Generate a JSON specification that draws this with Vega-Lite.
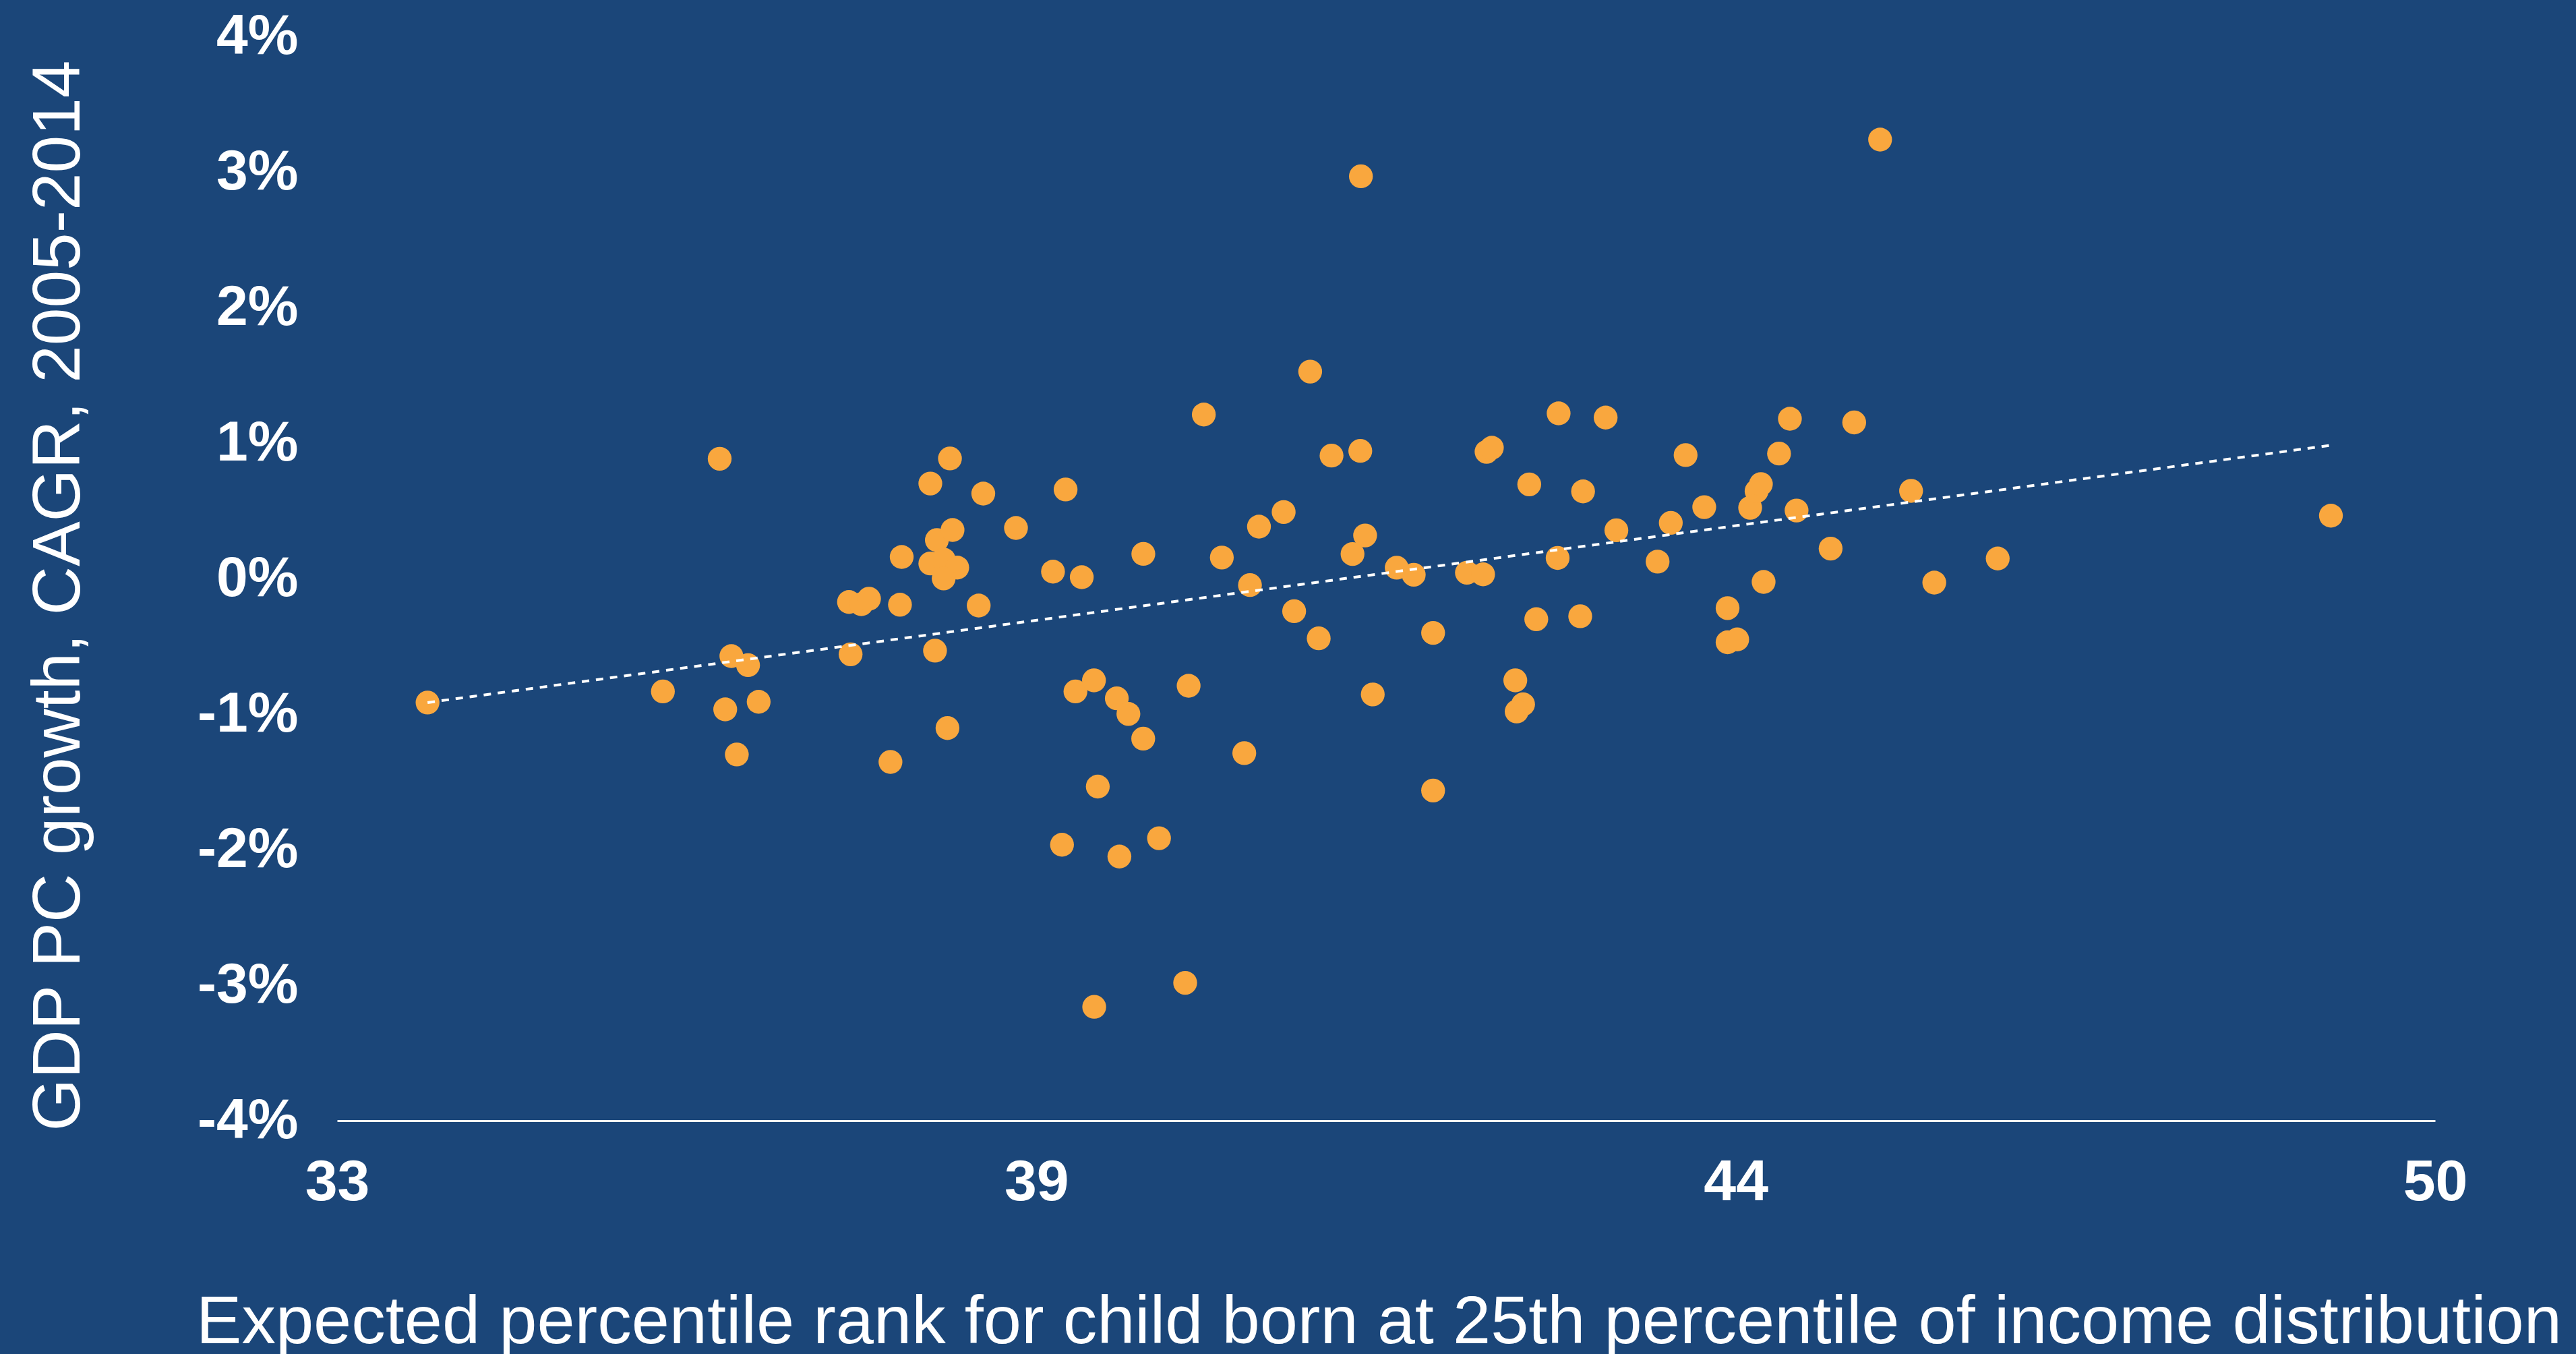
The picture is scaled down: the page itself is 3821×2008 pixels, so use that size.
{
  "$schema": "https://vega.github.io/schema/vega-lite/v6.json",
  "width": 3112,
  "height": 1608,
  "autosize": {"type": "none"},
  "padding": {"left": 500, "top": 54, "right": 209, "bottom": 346},
  "background": "#1B4679",
  "config": {"view": {"stroke": null}, "font": "Liberation Sans"},
  "layer": [
    {
      "data": {
        "values": [
          {"x": 33.733, "y": -0.915}, {"x": 35.640, "y": -0.833}, {"x": 36.100, "y": 0.884}, {"x": 36.195, "y": -0.572},
          {"x": 36.330, "y": -0.639}, {"x": 36.145, "y": -0.965}, {"x": 36.416, "y": -0.909}, {"x": 36.239, "y": -1.298},
          {"x": 37.148, "y": -0.173}, {"x": 37.248, "y": -0.189}, {"x": 37.310, "y": -0.149}, {"x": 37.161, "y": -0.559},
          {"x": 37.561, "y": -0.193}, {"x": 37.575, "y": 0.159}, {"x": 37.484, "y": -1.353}, {"x": 37.807, "y": 0.701},
          {"x": 37.966, "y": 0.886}, {"x": 37.860, "y": 0.284}, {"x": 37.987, "y": 0.358}, {"x": 37.807, "y": 0.111},
          {"x": 37.915, "y": 0.140}, {"x": 38.025, "y": 0.081}, {"x": 37.915, "y": 0.001}, {"x": 37.845, "y": -0.532},
          {"x": 38.199, "y": -0.199}, {"x": 38.236, "y": 0.627}, {"x": 38.501, "y": 0.373}, {"x": 37.946, "y": -1.103},
          {"x": 38.801, "y": 0.051}, {"x": 38.903, "y": 0.657}, {"x": 39.034, "y": 0.010}, {"x": 38.983, "y": -0.833},
          {"x": 39.133, "y": -0.751}, {"x": 39.318, "y": -0.884}, {"x": 39.412, "y": -0.999}, {"x": 39.532, "y": -1.181},
          {"x": 39.900, "y": -0.791}, {"x": 39.164, "y": -1.535}, {"x": 38.874, "y": -1.964}, {"x": 39.339, "y": -2.051},
          {"x": 39.660, "y": -1.916}, {"x": 39.872, "y": -2.983}, {"x": 39.135, "y": -3.160}, {"x": 39.533, "y": 0.182},
          {"x": 40.023, "y": 1.210}, {"x": 40.169, "y": 0.155}, {"x": 40.351, "y": -1.288}, {"x": 40.397, "y": -0.048},
          {"x": 40.470, "y": 0.383}, {"x": 40.670, "y": 0.491}, {"x": 40.755, "y": -0.241}, {"x": 40.885, "y": 1.527},
          {"x": 40.954, "y": -0.441}, {"x": 41.058, "y": 0.907}, {"x": 41.291, "y": 0.942}, {"x": 41.296, "y": 2.968},
          {"x": 41.330, "y": 0.318}, {"x": 41.228, "y": 0.181}, {"x": 41.392, "y": -0.855}, {"x": 41.586, "y": 0.080},
          {"x": 41.724, "y": 0.028}, {"x": 41.881, "y": -0.401}, {"x": 41.881, "y": -1.564}, {"x": 42.155, "y": 0.043},
          {"x": 42.286, "y": 0.031}, {"x": 42.314, "y": 0.935}, {"x": 42.357, "y": 0.965}, {"x": 42.547, "y": -0.751},
          {"x": 42.610, "y": -0.928}, {"x": 42.558, "y": -0.981}, {"x": 42.660, "y": 0.695}, {"x": 42.717, "y": -0.300},
          {"x": 42.890, "y": 0.152}, {"x": 42.898, "y": 1.219}, {"x": 43.073, "y": -0.278}, {"x": 43.096, "y": 0.643},
          {"x": 43.279, "y": 1.188}, {"x": 43.366, "y": 0.356}, {"x": 43.700, "y": 0.125}, {"x": 43.807, "y": 0.411},
          {"x": 43.927, "y": 0.911}, {"x": 44.078, "y": 0.527}, {"x": 44.267, "y": -0.218}, {"x": 44.267, "y": -0.470},
          {"x": 44.345, "y": -0.449}, {"x": 44.450, "y": 0.522}, {"x": 44.502, "y": 0.645}, {"x": 44.537, "y": 0.697},
          {"x": 44.559, "y": -0.025}, {"x": 44.684, "y": 0.922}, {"x": 44.772, "y": 1.179}, {"x": 44.826, "y": 0.502},
          {"x": 45.102, "y": 0.221}, {"x": 45.293, "y": 1.152}, {"x": 45.503, "y": 3.239}, {"x": 45.754, "y": 0.647},
          {"x": 45.942, "y": -0.030}, {"x": 46.456, "y": 0.148}, {"x": 49.156, "y": 0.464}
        ]
      },
      "mark": {"type": "circle", "size": 1250, "color": "#F9A73E", "opacity": 1},
      "encoding": {
        "x": {
          "field": "x", "type": "quantitative",
          "scale": {"domain": [33, 50], "nice": false, "zero": false},
          "axis": {
            "title": "Expected percentile rank for child born at 25th percentile of income distribution",
            "values": [33, 38.6667, 44.3333, 50],
            "labelExpr": "'' + round(datum.value)",
            "labelFlush": false, "labelOverlap": false, "labelBound": false,
            "ticks": false, "tickSize": 0, "grid": false,
            "domain": true, "domainColor": "#F2F2F2", "domainWidth": 3,
            "labelFont": "Liberation Sans", "labelFontWeight": "bold", "labelFontSize": 86,
            "labelColor": "#FFFFFF", "labelPadding": 49,
            "titleFont": "Liberation Sans", "titleFontSize": 101, "titleFontWeight": "normal",
            "titleColor": "#FFFFFF", "titleX": 1545, "titleY": 329, "titleBaseline": "alphabetic", "titleAlign": "center"
          }
        },
        "y": {
          "field": "y", "type": "quantitative",
          "scale": {"domain": [-4, 4], "nice": false},
          "axis": {
            "title": "GDP PC growth, CAGR, 2005-2014",
            "values": [-4, -3, -2, -1, 0, 1, 2, 3, 4],
            "labelExpr": "datum.value + '%'",
            "labelFlush": false, "labelOverlap": false, "labelBound": false,
            "domain": false, "ticks": false, "tickSize": 0, "grid": false,
            "labelFont": "Liberation Sans", "labelFontWeight": "bold", "labelFontSize": 84,
            "labelColor": "#FFFFFF", "labelPadding": 58,
            "titleFont": "Liberation Sans", "titleFontSize": 100, "titleFontWeight": "normal",
            "titleColor": "#FFFFFF", "titleX": -383, "titleY": 829, "titleAngle": -90,
            "titleBaseline": "alphabetic", "titleAlign": "center"
          }
        }
      }
    },
    {
      "data": {"values": [{"x": 33.733, "y": -0.915}, {"x": 49.143, "y": 0.982}]},
      "mark": {"type": "line", "color": "#FFFFFF", "strokeWidth": 4, "strokeDash": [11, 10]},
      "encoding": {
        "x": {"field": "x", "type": "quantitative"},
        "y": {"field": "y", "type": "quantitative"}
      }
    }
  ]
}
